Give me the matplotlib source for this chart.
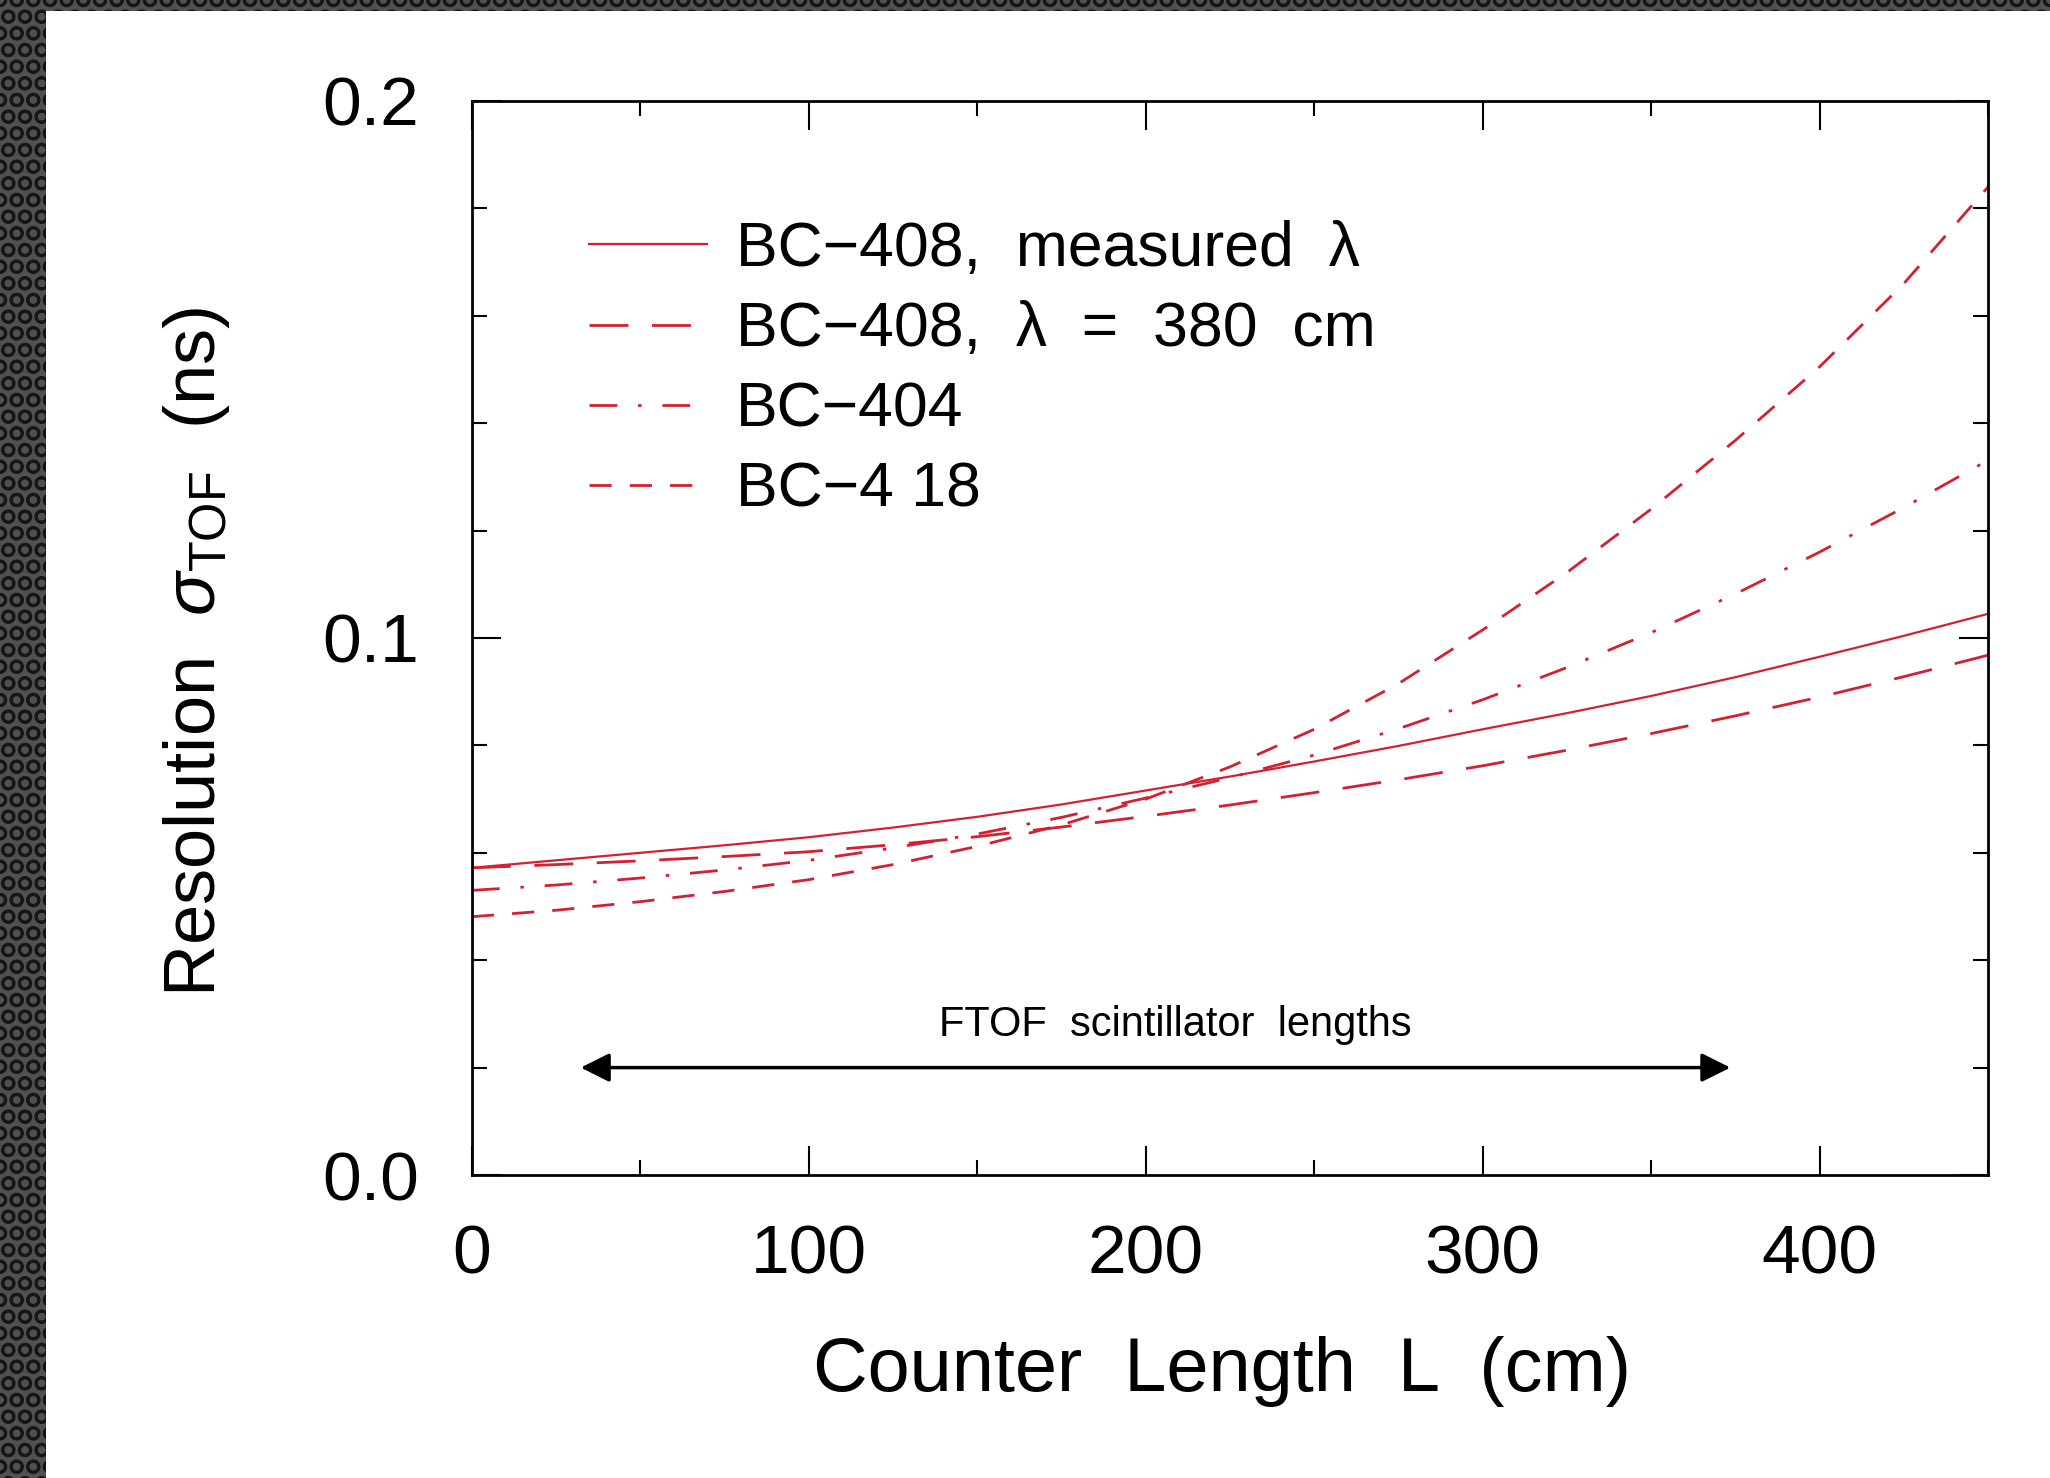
import matplotlib
matplotlib.use('Agg')
import matplotlib.pyplot as plt
from matplotlib.patches import Rectangle
from matplotlib.ticker import MultipleLocator, FormatStrFormatter

plt.rcParams['font.family'] = ['Liberation Sans', 'DejaVu Sans']
plt.rcParams['mathtext.fontset'] = 'custom'
plt.rcParams['mathtext.rm'] = 'Liberation Sans'
plt.rcParams['mathtext.it'] = 'Liberation Sans:italic'
plt.rcParams['lines.scale_dashes'] = False
plt.rcParams['hatch.linewidth'] = 2.0

# counter length (cm) and time resolution (ns)
length = [0, 25, 50, 75, 100, 125, 150, 175, 200, 225,
          250, 275, 300, 325, 350, 375, 400, 425, 450]
bc408_meas = [0.0572, 0.0586, 0.0600, 0.0614, 0.0629, 0.0647, 0.0667, 0.0690, 0.0716, 0.0742,
              0.0770, 0.0799, 0.0830, 0.0860, 0.0892, 0.0927, 0.0965, 0.1004, 0.1045]
bc408_380 = [0.0572, 0.0578, 0.0585, 0.0593, 0.0602, 0.0615, 0.0630, 0.0648, 0.0668, 0.0689,
             0.0712, 0.0736, 0.0762, 0.0791, 0.0822, 0.0855, 0.0890, 0.0928, 0.0968]
bc404 = [0.0530, 0.0540, 0.0553, 0.0568, 0.0586, 0.0609, 0.0635, 0.0666, 0.0702, 0.0740,
         0.0782, 0.0831, 0.0885, 0.0945, 0.1010, 0.1082, 0.1160, 0.1243, 0.1331]
bc418 = [0.0481, 0.0493, 0.0509, 0.0528, 0.0550, 0.0578, 0.0612, 0.0652, 0.0700, 0.0760,
         0.0830, 0.0915, 0.1015, 0.1122, 0.1240, 0.1368, 0.1505, 0.1660, 0.1840]

labels = ['BC\u2212408,  measured  \u03bb', 'BC\u2212408,  \u03bb  =  380  cm',
          'BC\u2212404', 'BC\u22124 18']
ftof_range = [32.3, 373.5]

red = '#d42030'

fig = plt.figure(figsize=(20.5, 14.78), dpi=100)
fig.patch.set_facecolor('white')

# dark perforated border on the left and top
for rect in [(0, 0, 46 / 2050, 1), (0, 1 - 11 / 1478, 1, 11 / 1478)]:
    fig.patches.append(Rectangle(rect[:2], rect[2], rect[3], transform=fig.transFigure,
                                 facecolor='#505050', edgecolor='#161616', hatch='O', lw=0))

ax = fig.add_axes([0.2302, 0.2050, 0.7396, 0.7267])

ax.plot(length, bc408_meas, color=red, lw=1.6, label=labels[0])
ax.plot(length, bc408_380, color=red, lw=2.0, dashes=(28, 17), label=labels[1])
ax.plot(length, bc404, color=red, lw=2.0, dashes=(20, 15, 2.5, 15), label=labels[2])
ax.plot(length, bc418, color=red, lw=2.0, dashes=(16, 13), label=labels[3])

ax.annotate('', xy=(ftof_range[1], 0.02), xytext=(ftof_range[0], 0.02),
            arrowprops=dict(arrowstyle='<|-|>,head_length=0.8,head_width=0.4',
                            color='black', lw=2.5, mutation_scale=22,
                            shrinkA=0, shrinkB=0))
ax.text(208.7, 0.028, 'FTOF  scintillator  lengths', fontsize=30,
        ha='center', va='center')

ax.set_xlim(0, 450)
ax.set_ylim(0, 0.2)
ax.xaxis.set_major_locator(MultipleLocator(100))
ax.xaxis.set_minor_locator(MultipleLocator(50))
ax.yaxis.set_major_locator(MultipleLocator(0.1))
ax.yaxis.set_minor_locator(MultipleLocator(0.02))
ax.yaxis.set_major_formatter(FormatStrFormatter('%.1f'))

ax.tick_params(which='both', direction='in', top=True, right=True, width=1.5)
ax.tick_params(which='major', length=21)
ax.tick_params(which='minor', length=10.5)
ax.tick_params(axis='x', labelsize=50, pad=35)
ax.tick_params(axis='y', labelsize=50, pad=38)
for s in ax.spines.values():
    s.set_linewidth(2)

ax.set_xlabel('Counter  Length  L  (cm)', fontsize=54.5)
ax.xaxis.set_label_coords(0.495, -0.150)
ax.set_ylabel(r'Resolution  $\sigma_{\mathrm{TOF}}$  (ns)', fontsize=52)
ax.yaxis.set_label_coords(-0.158, 0.487)

leg = ax.legend(loc='upper left', bbox_to_anchor=(0.077, 0.889), frameon=False,
                fontsize=45, handlelength=1.9, handletextpad=0.45, labelspacing=0.34,
                borderpad=0, borderaxespad=0)

fig.savefig('out.png', dpi=100)
